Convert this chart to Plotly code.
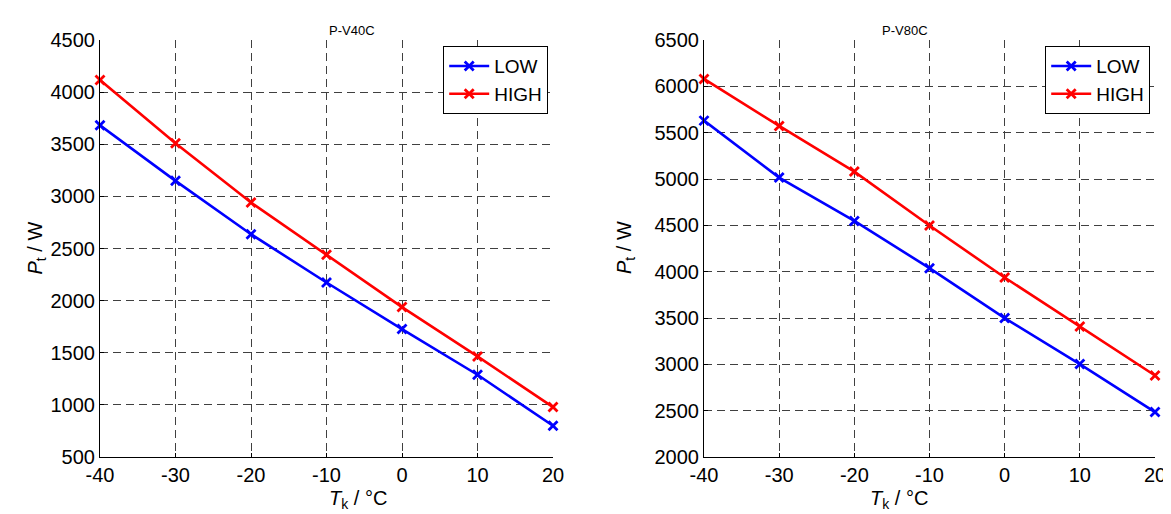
import plotly.graph_objects as go

temps = [-40, -30, -20, -10, 0, 10, 20]
temp_labels = ["-40", "-30", "-20", "-10", "0", "10", "20"]
v40_low = [3682, 3149, 2637, 2174, 1727, 1289, 800]
v40_high = [4117, 3510, 2941, 2439, 1938, 1465, 979]
v80_low = [5630, 5015, 4548, 4038, 3499, 3003, 2485]
v80_high = [6080, 5573, 5080, 4498, 3937, 3409, 2880]
v40_ticks = [500, 1000, 1500, 2000, 2500, 3000, 3500, 4000, 4500]
v80_ticks = [2000, 2500, 3000, 3500, 4000, 4500, 5000, 5500, 6000, 6500]
titles = ["P-V40C", "P-V80C"]
series_names = ["LOW", "HIGH"]
colors = ["#0000FF", "#FF0000"]

# page is 1171x514; the html body has an 8px margin, so the figure is 8px smaller
OFF = 8
W, H = 1171 - OFF, 514 - OFF
fig = go.Figure()


def px_x(p):
    return (p - OFF) / W


def px_y(p):
    return 1 - (p - OFF) / H


panels = [
    dict(low=v40_low, high=v40_high, xa="x", ya="y", leg="legend", x0=100, x1=553,
         yt=v40_ticks, legx=548),
    dict(low=v80_low, high=v80_high, xa="x2", ya="y2", leg="legend2", x0=704, x1=1155,
         yt=v80_ticks, legx=1150),
]

font = "Liberation Sans, Arial, sans-serif"
layout = dict(width=W, height=H, autosize=False,
              margin=dict(l=0, r=0, t=0, b=0, pad=0, autoexpand=False),
              plot_bgcolor="white", paper_bgcolor="white",
              font=dict(family=font, color="black"), annotations=[])

for i, p in enumerate(panels):
    for name, vals, col in zip(series_names, [p["low"], p["high"]], colors):
        fig.add_trace(go.Scatter(
            x=temps, y=vals, name=name, mode="lines+markers",
            line=dict(color=col, width=2.6),
            marker=dict(symbol="x-thin", size=9, line=dict(color=col, width=2.8)),
            xaxis=p["xa"], yaxis=p["ya"], legend=p["leg"], cliponaxis=False))
    sfx = "" if i == 0 else "2"
    axcommon = dict(showgrid=True, gridcolor="#404040", griddash="8px,5px", gridwidth=1,
                    showline=True, linecolor="black", linewidth=1.2, mirror=False,
                    ticks="inside", ticklen=4, tickcolor="black", automargin=False,
                    tickfont=dict(size=20, family=font, color="black"), zeroline=False)
    layout["xaxis" + sfx] = dict(axcommon, domain=[px_x(p["x0"]), px_x(p["x1"])],
                                 range=[-40, 20], tickmode="array", tickvals=temps,
                                 ticktext=temp_labels, anchor="y" + sfx)
    layout["yaxis" + sfx] = dict(axcommon, domain=[px_y(457), px_y(40)],
                                 range=[p["yt"][0], p["yt"][-1]], tickmode="array",
                                 tickvals=p["yt"], ticktext=[str(v) for v in p["yt"]],
                                 anchor="x" + sfx)
    layout[p["leg"]] = dict(x=px_x(p["legx"]), y=px_y(46), xanchor="right", yanchor="top",
                            bgcolor="white", bordercolor="black", borderwidth=1.2,
                            font=dict(size=19, family=font), tracegroupgap=0,
                            itemwidth=40)
    cx = (p["x0"] + p["x1"]) / 2
    layout["annotations"] += [
        dict(text=titles[i], x=px_x(cx), y=px_y(21), xref="paper", yref="paper",
             showarrow=False, font=dict(size=13, family=font)),
        dict(text="<i>T</i><sub>k</sub> / °C", x=px_x(cx), y=px_y(514), yanchor="bottom",
             xref="paper", yref="paper", showarrow=False, font=dict(size=20, family=font)),
        dict(text="<i>P</i><sub>t</sub> / W", x=px_x(p["x0"] - 78), y=px_y(248),
             xref="paper", yref="paper", showarrow=False, textangle=-90,
             font=dict(size=20, family=font)),
    ]

fig.update_layout(**layout)
fig.write_html("out.html")
